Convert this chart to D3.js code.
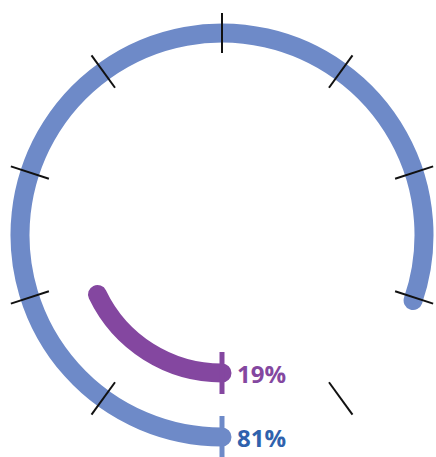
<!DOCTYPE html>
<html><head><meta charset="utf-8">
<script src="https://cdn.jsdelivr.net/npm/d3@7"></script>
<style>html,body{margin:0;padding:0;background:#fff;}svg{display:block;}</style>
</head><body>
<svg id="chart" width="436" height="457"></svg>
<script>
const series = ["Outer", "Inner"];
const values = [81, 19];
const labels = ["81%", "19%"];
const arcColors = ["#6e8ac8", "#8447a0"];
const labelColors = ["#2f62ad", "#8447a0"];
const tickValues = [0, 10, 20, 30, 40, 50, 60, 70, 80, 90];

const svg = d3.select("#chart");
const cx = 222, cy = 235;
const g = svg.append("g").attr("transform", `translate(${cx},${cy})`);
const strokeW = 19;

// angle: 0 = top, clockwise; start at bottom
const angle = d3.scaleLinear().domain([0, 100]).range([Math.PI, 3 * Math.PI]);
const radius = d3.scaleOrdinal().domain(series).range([202, 138]);

function arcPath(r, a0, a1) {
  const p = d3.path();
  p.arc(0, 0, r, a0 - Math.PI / 2, a1 - Math.PI / 2, false);
  return p.toString();
}

series.forEach((s, i) => {
  const r = radius(s);
  const capAng = (strokeW / 2) / r;
  g.append("path")
    .attr("d", arcPath(r, angle(0), angle(values[i]) - capAng))
    .attr("fill", "none")
    .attr("stroke", arcColors[i])
    .attr("stroke-width", strokeW)
    .attr("stroke-linecap", "round");
});

// black ticks on outer ring
const rOut = radius(series[0]);
tickValues.forEach(v => {
  if (v === 0) return;
  const a = angle(v);
  const s = Math.sin(a), c = -Math.cos(a);
  g.append("line")
    .attr("x1", (rOut - 20) * s).attr("y1", (rOut - 20) * c)
    .attr("x2", (rOut + 20) * s).attr("y2", (rOut + 20) * c)
    .attr("stroke", "#111").attr("stroke-width", 2);
});

// start markers and labels per series
series.forEach((s, i) => {
  const r = radius(s);
  const a = angle(0);
  const sn = Math.sin(a), c = -Math.cos(a);
  g.append("line")
    .attr("x1", (r - 21) * sn).attr("y1", (r - 21) * c)
    .attr("x2", (r + 21) * sn).attr("y2", (r + 21) * c)
    .attr("stroke", arcColors[i]).attr("stroke-width", 5);
  g.append("text")
    .attr("x", 15).attr("y", r + 10)
    .attr("fill", labelColors[i])
    .attr("font-family", "'Open Sans', sans-serif")
    .attr("font-weight", 700)
    .attr("font-size", 24)
    .text(labels[i]);
});
</script>
</body></html>
